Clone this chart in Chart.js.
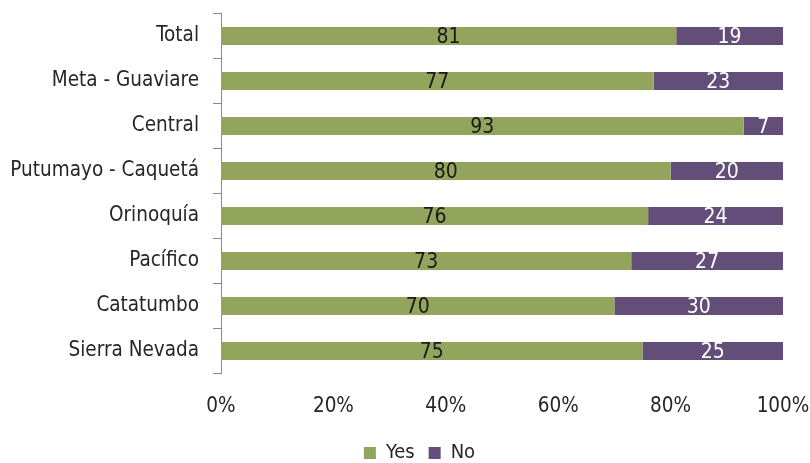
<!DOCTYPE html>
<html>
<head>
<meta charset="utf-8">
<script src="https://cdn.jsdelivr.net/npm/chart.js@4/dist/chart.umd.min.js"></script>
<style>
  html, body { margin: 0; padding: 0; background: #ffffff; }
  #wrap { width: 810px; height: 463px; }
</style>
</head>
<body>
<div id="wrap"><canvas id="c" width="810" height="463"></canvas></div>
<script>
// Regions and their Yes / No shares (percent)
const regions = ['Total', 'Meta - Guaviare', 'Central', 'Putumayo - Caquetá', 'Orinoquía', 'Pacífico', 'Catatumbo', 'Sierra Nevada'];
const yesValues = [81, 77, 93, 80, 76, 73, 70, 75];
const noValues = [19, 23, 7, 20, 24, 27, 30, 25];
const xTicks = [0, 20, 40, 60, 80, 100];

const FONT = "'DejaVu Sans Condensed', 'Liberation Sans Narrow', 'Arial Narrow', sans-serif";
const GREEN = '#93a45c';
const PURPLE = '#634e7a';

// Value labels centred inside each stacked segment
const segmentLabels = {
  id: 'segmentLabels',
  afterDatasetsDraw(chart) {
    const ctx = chart.ctx;
    ctx.save();
    ctx.font = '21px ' + FONT;
    ctx.textAlign = 'center';
    ctx.textBaseline = 'middle';
    chart.data.datasets.forEach((ds, i) => {
      const meta = chart.getDatasetMeta(i);
      ctx.fillStyle = i === 0 ? '#1a1a1a' : '#ffffff';
      meta.data.forEach((bar, j) => {
        const cx = (bar.x + bar.base) / 2;
        ctx.fillText(String(ds.data[j]), cx, bar.y + 2);
      });
    });
    ctx.restore();
  }
};

// Centre the legend a little right of the canvas middle, under the bars
const legendShift = {
  id: 'legendShift',
  afterLayout(chart) {
    const lg = chart.legend;
    if (lg) { lg.left += 56; }
  }
};

new Chart(document.getElementById('c'), {
  type: 'bar',
  data: {
    labels: regions,
    datasets: [
      { label: 'Yes', data: yesValues, backgroundColor: GREEN, borderWidth: 0, categoryPercentage: 1, barPercentage: 0.4 },
      { label: 'No', data: noValues, backgroundColor: PURPLE, borderWidth: 0, categoryPercentage: 1, barPercentage: 0.4 }
    ]
  },
  options: {
    indexAxis: 'y',
    responsive: false,
    animation: false,
    devicePixelRatio: 1,
    layout: { padding: { top: 13.5, right: 27, left: 0, bottom: -10 } },
    scales: {
      x: {
        stacked: true,
        min: 0,
        max: 100,
        afterBuildTicks(scale) { scale.ticks = xTicks.map(v => ({ value: v })); },
        grid: { display: false, drawTicks: false },
        border: { display: false },
        ticks: {
          padding: 21,
          color: '#262626',
          font: { family: FONT, size: 20.5 },
          callback: v => v + '%',
          maxRotation: 0
        },
        afterFit(scale) {
          scale.height = 55.5;
          scale.paddingLeft = 0;
          scale.paddingRight = 0;
        }
      },
      y: {
        stacked: true,
        offset: true,
        grid: { display: true, offset: true, drawOnChartArea: false, drawTicks: true, tickLength: 8, color: '#8a8a8a', lineWidth: 1 },
        border: { display: true, color: '#8a8a8a', width: 1 },
        ticks: {
          padding: 14,
          color: '#262626',
          font: { family: FONT, size: 20.5 }
        },
        afterFit(scale) {
          scale.width = 221;
          scale.paddingTop = 0;
          scale.paddingBottom = 0;
        }
      }
    },
    plugins: {
      legend: {
        position: 'bottom',
        labels: {
          boxWidth: 12,
          boxHeight: 12,
          padding: 14,
          color: '#262626',
          font: { family: FONT, size: 20 }
        }
      },
      tooltip: { enabled: false }
    }
  },
  plugins: [segmentLabels, legendShift]
});
</script>
</body>
</html>
